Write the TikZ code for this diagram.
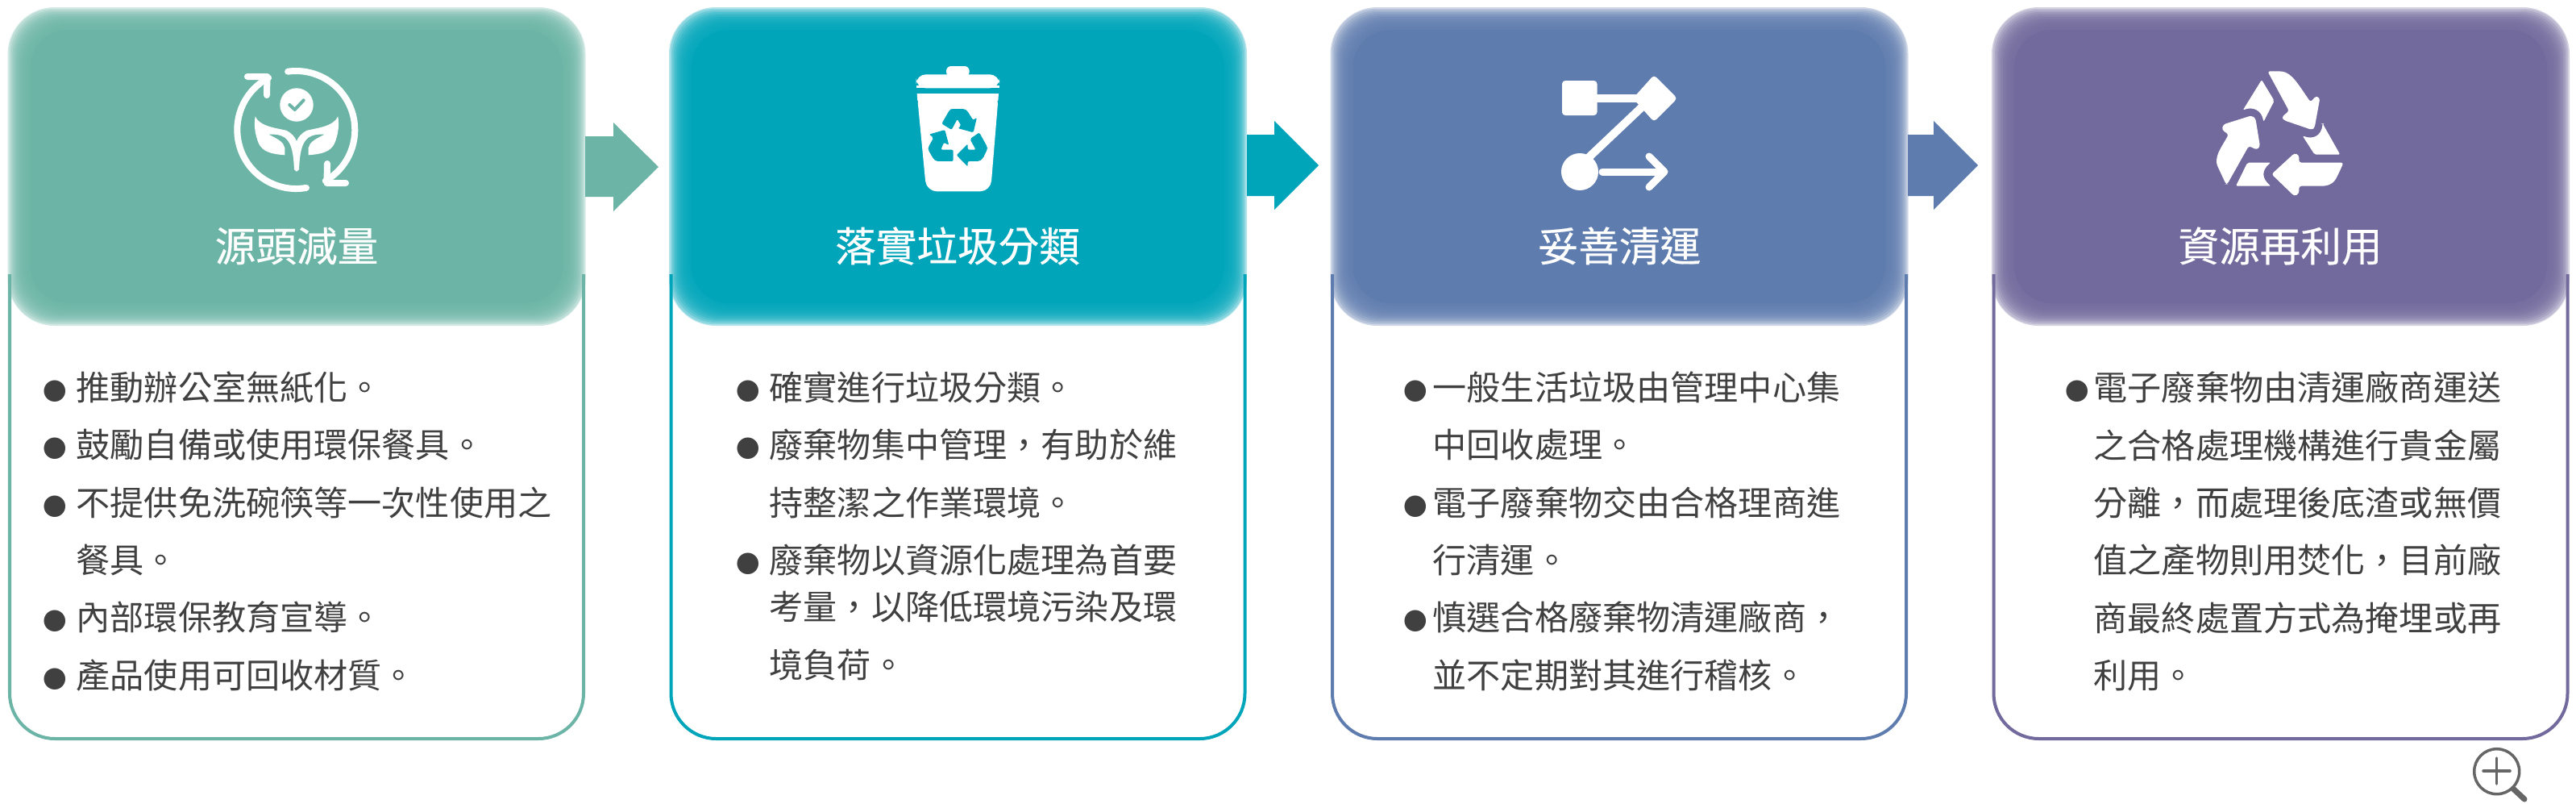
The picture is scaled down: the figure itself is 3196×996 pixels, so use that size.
\documentclass[tikz,border=0pt]{standalone}
\usepackage{fontspec}
\usetikzlibrary{calc,positioning}
\newfontfamily\cjk{Noto Sans CJK TC}
\newfontfamily\cjktitle[FakeBold=0.35]{Noto Sans CJK TC}
\definecolor{cardA}{HTML}{6CB5A6}
\definecolor{cardB}{HTML}{00A5BA}
\definecolor{cardC}{HTML}{5F7CAE}
\definecolor{cardD}{HTML}{726A9C}
\definecolor{bodytext}{HTML}{404040}
\definecolor{zoomgrey}{HTML}{666666}
\tikzset{
	titletext/.style={text=white,font=\cjktitle\fontsize{14.4pt}{14.4pt}\selectfont,inner sep=0pt},
	bodyblock/.style={text=bodytext,font=\cjk\fontsize{11.98pt}{20.28pt}\selectfont,inner sep=0pt,align=left,anchor=north west},
	iconline/.style={draw=white,line width=0.08cm,line cap=round,line join=round},
}
% bullet hanging left of the text
\newcommand{\itemdot}[1][0.115cm]{\llap{\fontsize{8.4pt}{0pt}\selectfont ●\hspace{#1}}}

\begin{document}
\begin{tikzpicture}[x=0.01cm,y=-0.01cm]
	\useasboundingbox (0,0) rectangle (3196,996);
	% Settings
	\pgfmathsetmacro{\cardwidth}{717}
	\pgfmathsetmacro{\cardbottom}{916}
	% /Settings
	\foreach \cardcol/\x in {cardA/9.5,cardB/830,cardC/1650.5,cardD/2471}{
		\pgfmathsetmacro{\xr}{\x+\cardwidth}
		\draw[\cardcol,line width=0.04cm,rounded corners=0.56cm] (\x+2.5,340) -- (\x+2.5,\cardbottom) -- (\xr-2.5,\cardbottom) -- (\xr-2.5,340);
		\fill[\cardcol,fill opacity=0.3,rounded corners=0.58cm] (\x,9) rectangle (\xr,404);
		\foreach \idx in {1,...,14}{
			\pgfmathsetmacro{\a}{\x+2*\idx}
			\pgfmathsetmacro{\b}{\xr-2*\idx}
			\pgfmathsetmacro{\c}{9+2*\idx}
			\pgfmathsetmacro{\d}{404-2*\idx}
			\fill[\cardcol,fill opacity=0.23,rounded corners=0.54cm] (\a,\c) rectangle (\b,\d);
		}
		\fill[\cardcol,rounded corners=0.46cm] (\x+28,37) rectangle (\xr-28,376);
	}
	% block arrows
	\fill[cardA] (726,169) -- (761,169) -- (761,152) -- (817,207) -- (761,262) -- (761,244) -- (726,244) -- cycle;
	\fill[cardB] (1547,167) -- (1581,167) -- (1581,150) -- (1636,205) -- (1581,260) -- (1581,243) -- (1547,243) -- cycle;
	\fill[cardC] (2367,167) -- (2399,167) -- (2399,150) -- (2454,205) -- (2399,260) -- (2399,243) -- (2367,243) -- cycle;
	% titles
	\node[titletext] (titleA) at (368,305) {源頭減量};
	\node[titletext] (titleB) at (1188,305) {落實垃圾分類};
	\node[titletext] (titleC) at (2009,305) {妥善清運};
	\node[titletext] (titleD) at (2829,305) {資源再利用};
	% bodies
	\node[bodyblock] (bodyA) at (94,460) {\itemdot 推動辦公室無紙化。\\\itemdot 鼓勵自備或使用環保餐具。\\\itemdot 不提供免洗碗筷等一次性使用之\\餐具。\\\itemdot 內部環保教育宣導。\\\itemdot 產品使用可回收材質。};
	\node[bodyblock] (bodyB) at (954,460) {\itemdot 確實進行垃圾分類。\\\itemdot 廢棄物集中管理，有助於維\\持整潔之作業環境。\\\itemdot 廢棄物以資源化處理為首要\\[-0.13cm]考量，以降低環境污染及環\\境負荷。};
	\node[bodyblock] (bodyC) at (1777,460) {\itemdot[0.07cm]一般生活垃圾由管理中心集\\中回收處理。\\\itemdot[0.07cm]電子廢棄物交由合格理商進\\行清運。\\\itemdot[0.07cm]慎選合格廢棄物清運廠商，\\並不定期對其進行稽核。};
	\node[bodyblock] (bodyD) at (2597,460) {\itemdot[0.06cm]電子廢棄物由清運廠商運送\\之合格處理機構進行貴金屬\\分離，而處理後底渣或無價\\值之產物則用焚化，目前廠\\商最終處置方式為掩埋或再\\利用。};
	% icon: leaf in a loop
	\draw[iconline] (367.3,161) ++(-98:73) arc[start angle=-98,end angle=60,radius=73];
	\draw[iconline] (367.3,161) ++(80:73) arc[start angle=80,end angle=242,radius=73];
	\draw[iconline] (307,95) -- (331.5,95) -- (331,118);
	\draw[iconline] (406,203) -- (405.5,227) -- (429,227);
	\fill[white] (368,130) circle (20.7);
	\draw[cardA,line width=0.04cm,line cap=round,line join=round] (359.3,130) -- (365.7,136) -- (376.7,124.3);
	\foreach \s in {1,-1}{
		\begin{scope}[shift={(368,0)},xscale=\s]
			\fill[white] (-51.3,144.3) .. controls (-46,156) and (-30,158) .. (-13,161.7) .. controls (-6,165) and (-2,170) .. (0,175) -- (3,210) -- (0,212.5) -- (-3,210) .. controls (-4,190) and (-6,178) .. (-14,171) .. controls (-20,167) and (-26,166) .. (-34.7,166.7) .. controls (-24,172) and (-16,176) .. (-14.7,183.3) -- (-14.7,192.3) .. controls (-32,191) and (-42,188) .. (-47,178) .. controls (-52,166) and (-53,155) .. cycle;
		\end{scope}
	}
	% icon: bin
	\begin{scope}[shift={(1120,75)},scale=0.3333]
		\fill[white,rounded corners=0.06cm] (162,60) -- (162,21) -- (248,21) -- (248,60) -- cycle;
		\fill[white,rounded corners=0.12cm] (50,103) -- (50,52) -- (360,52) -- (360,103) -- cycle;
		\fill[white] (50,92) rectangle (360,103);
		\fill[white,rounded corners=0.13cm] (53,123) -- (357,123) -- (327,487) -- (88,487) -- cycle;
		\fill[white] (53,123) -- (357,123) -- (355,150) -- (55,150) -- cycle;
		\fill[cardB,rounded corners=0.02cm] (145,235) -- (182,258) -- (203,218) -- (218,243) -- (205,252) -- (263,268) -- (276,212) -- (262,222) -- (240,187) -- (230,180) -- (182,180) -- (175,183) -- cycle;
		\fill[cardB,rounded corners=0.02cm] (98,275) -- (157,258) -- (172,315) -- (153,305) -- (142,332) -- (188,332) -- (188,375) -- (125,375) -- (115,367) -- (95,333) -- (95,323) -- (115,287) -- cycle;
		\fill[cardB,rounded corners=0.02cm] (250,292) -- (285,268) -- (315,322) -- (315,330) -- (298,365) -- (285,375) -- (242,375) -- (242,395) -- (200,352) -- (242,310) -- (242,332) -- (272,332) -- cycle;
	\end{scope}
	% icon: route
	\fill[white,rounded corners=0.04cm] (1938,100) rectangle (1981.5,143);
	\fill[white] (1981,117) rectangle (2035,127);
	\fill[white,rounded corners=0.04cm] (2052,93) -- (2081,122) -- (2052,151) -- (2026,122) -- cycle;
	\draw[white,line width=0.1cm] (1966,200) -- (2040,130);
	\fill[white] (1960,213) circle (23);
	\draw[iconline,line width=0.09cm] (1988,213) -- (2064,213);
	\draw[iconline,line width=0.09cm] (2046,194) -- (2065,213) -- (2046,232);
	% icon: recycle
	\begin{scope}[shift={(2730,75)},scale=0.3333]
		\fill[white,rounded corners=0.03cm] (250,40) -- (295,40) .. controls (340,45) and (365,90) .. (410,155) -- (430,132) -- (445,140) -- (425,250) -- (415,258) -- (310,222) -- (303,210) -- (330,188) -- cycle;
		\fill[white,rounded corners=0.02cm] (228,72) -- (275,150) -- (235,228) .. controls (228,185) and (195,170) .. (158,185) -- cycle;
		\fill[white,rounded corners=0.03cm] (190,205) -- (205,215) -- (222,320) -- (210,332) -- (180,318) -- (100,460) -- (95,460) -- (60,385) .. controls (60,345) and (80,320) .. (105,275) -- (80,258) -- (85,238) -- cycle;
		\fill[white,rounded corners=0.02cm] (175,380) -- (262,380) .. controls (225,410) and (230,440) .. (262,467) -- (132,467) -- cycle;
		\fill[white,rounded corners=0.03cm] (350,345) -- (367,352) -- (367,380) -- (533,380) -- (510,430) .. controls (490,467) and (460,467) .. (440,467) -- (367,467) -- (367,495) -- (350,505) -- (265,423) -- cycle;
		\fill[white,rounded corners=0.02cm] (455,235) -- (520,350) -- (425,350) -- (380,280) .. controls (420,295) and (450,280) .. cycle;
	\end{scope}
	% magnifier
	\draw[zoomgrey,line width=0.035cm] (3097.7,956.7) circle (28);
	\draw[zoomgrey,line width=0.035cm,line cap=round] (3081,956) -- (3114,956);
	\draw[zoomgrey,line width=0.035cm,line cap=round] (3097.5,940) -- (3097.5,972);
	\draw[zoomgrey,line width=0.07cm,line cap=round] (3118,978) -- (3132,991);
\end{tikzpicture}
\end{document}
